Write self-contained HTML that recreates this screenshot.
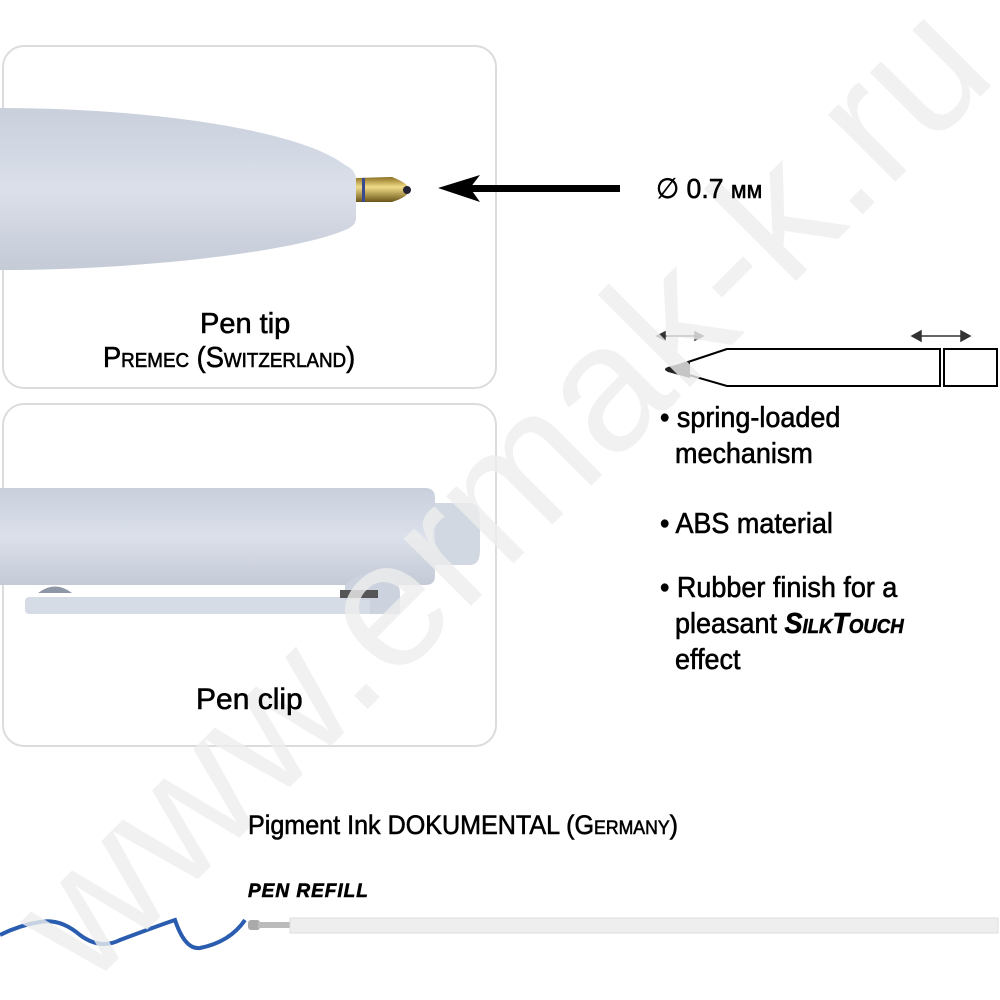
<!DOCTYPE html>
<html><head><meta charset="utf-8"><style>
html,body{margin:0;padding:0;background:#fff;width:1000px;height:1000px;overflow:hidden}
#c{position:relative;width:1000px;height:1000px;overflow:hidden;font-family:"Liberation Sans",sans-serif;color:#000}
.box{position:absolute;left:2px;width:495px;height:344px;border:2px solid #dcdcdc;border-radius:22px;box-sizing:border-box}
.t{position:absolute;white-space:nowrap;transform-origin:left top;-webkit-text-stroke:0.6px #000}
.sc{font-variant:small-caps}
#wm{position:absolute;left:500px;top:490px;transform:translate(-50%,-50%) rotate(-45deg);font-size:180px;color:#eeeeee;white-space:nowrap;font-family:"Liberation Sans",sans-serif;opacity:.8}
</style></head><body><div id="c">
<div class="box" style="top:45px"></div>
<div class="box" style="top:403px"></div>

<svg width="1000" height="1000" style="position:absolute;left:0;top:0">
<defs>
<linearGradient id="g1" x1="0" y1="0" x2="0" y2="1"><stop offset="0" stop-color="#c9d0dc"/><stop offset=".5" stop-color="#dbe0ea"/><stop offset="1" stop-color="#c4cad6"/></linearGradient>
<linearGradient id="gold" x1="0" y1="0" x2="0" y2="1"><stop offset="0" stop-color="#8a7020"/><stop offset=".4" stop-color="#f2dc8a"/><stop offset="1" stop-color="#6b5618"/></linearGradient>
</defs>
<path d="M0 108 C150 108 300 130 345 165 Q356 170 356 180 L356 218 Q356 226 345 230 C300 250 150 270 0 270 Z" fill="url(#g1)"/>
<path d="M356 178 L392 177 Q408 183 410 190 Q408 197 392 202 L356 202 Z" fill="url(#gold)"/>
<rect x="362" y="178" width="3" height="24" fill="#3a4a90"/>
<ellipse cx="407" cy="190" rx="4" ry="4" fill="#223"/>
<rect x="470" y="185" width="150" height="7" fill="#000"/>
<path d="M438 188 L480 175 L470 188 L480 202 Z" fill="#000"/>
<path d="M0 488 L425 488 Q435 488 435 498 L435 576 Q435 585 425 585 L0 585 Z" fill="url(#g1)"/>
<path d="M435 503 L470 503 Q480 503 480 520 L480 550 Q480 565 470 565 L435 565 Z" fill="#d2d8e2"/>
<path d="M38 593 Q55 580 72 593 Z" fill="#8d97a6"/>
<rect x="25" y="597" width="375" height="17" rx="4" fill="#d6dce6"/>
<path d="M345 600 L345 585 Q360 570 380 572 Q400 575 400 595 L400 614 L370 614 L370 600 Z" fill="#ccd3de"/>
<rect x="340" y="590" width="38" height="8" fill="#555"/>
<g stroke="#000" stroke-width="2" fill="#fff">
<path d="M727 349 L682 364 L682 373 L727 386 L940 386 L940 349 Z"/>
<rect x="944" y="349" width="53" height="37"/>
</g>
<path d="M668 367 L690 361 L690 378 L668 372 Q662 369 668 367 Z" fill="#222"/>
<g stroke="#333" stroke-width="1.5" fill="#333">
<line x1="660" y1="336" x2="700" y2="336"/><path d="M657 336 l8 -4 v8 z M703 336 l-8 -4 v8 z"/>
<line x1="915" y1="336" x2="967" y2="336"/><path d="M912 336 l9 -5 v10 z M970 336 l-9 -5 v10 z"/>
</g>
<path d="M0 935 Q20 925 40 922 Q60 918 80 935 Q100 950 120 940 Q160 925 175 920 Q185 950 200 948 Q230 942 245 920" stroke="#2a5db0" stroke-width="4" fill="none"/>
<rect x="248" y="920" width="12" height="10" rx="3" fill="#aaa"/>
<rect x="258" y="922" width="34" height="6" fill="#bbb"/>
<rect x="290" y="918" width="708" height="15" fill="#eeeeee" stroke="#ddd"/>
</svg>

<div id="wm">www.ermak-k.ru</div>
<div class="t" style="left:200px;top:308px;font-size:29px">Pen tip</div>
<div class="t sc" style="left:103px;top:342px;font-size:29px;transform:scaleX(.94)">Premec (Switzerland)</div>
<div class="t" style="left:196px;top:683px;font-size:30px">Pen clip</div>
<div class="t" style="left:656px;top:172px;font-size:28px;transform:scaleX(.95)">∅ 0.7 <span style="font-size:24px">мм</span></div>
<div class="t" style="left:660px;top:400px;font-size:29px;line-height:36px;transform:scaleX(.93)">• spring-loaded<br>&nbsp;&nbsp;mechanism</div>
<div class="t" style="left:660px;top:508px;font-size:29px;transform:scaleX(.93)">• ABS material</div>
<div class="t" style="left:660px;top:570px;font-size:29px;line-height:36px;transform:scaleX(.93)">• Rubber finish for a<br>&nbsp;&nbsp;pleasant <i class="sc" style="font-weight:bold">SilkTouch</i><br>&nbsp;&nbsp;effect</div>
<div class="t" style="left:248px;top:810px;font-size:27px;transform:scaleX(.93)">Pigment Ink DOKUMENTAL <span class="sc">(Germany)</span></div>
<div class="t" style="left:248px;top:881px;font-size:19px;font-weight:bold;font-style:italic;letter-spacing:1px">PEN REFILL</div>
</div></body></html>
